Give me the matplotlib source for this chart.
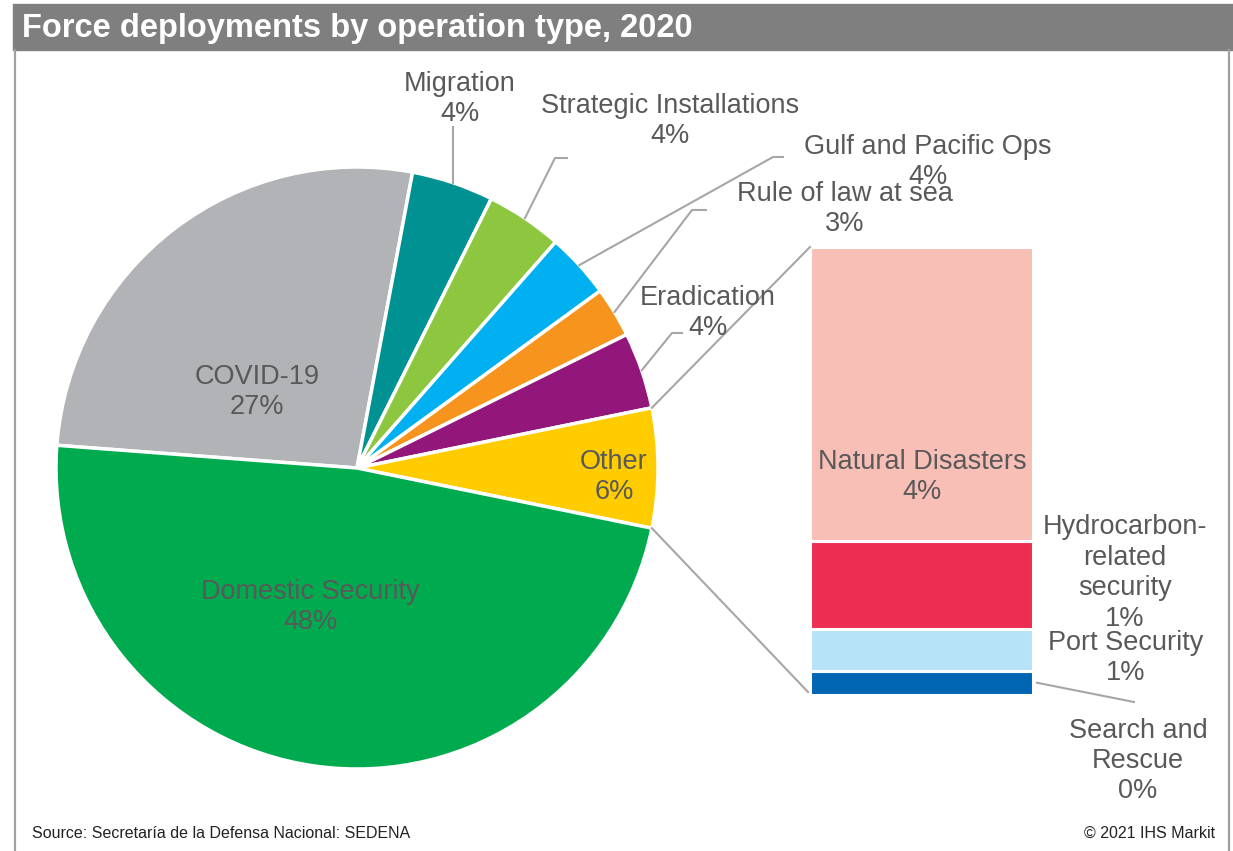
import matplotlib
matplotlib.use("Agg")
import matplotlib.pyplot as plt
from matplotlib.patches import Rectangle
import numpy as np

plt.rcParams['font.family'] = ['Liberation Sans', 'DejaVu Sans']

# Share of force deployments by operation type (clockwise from the left edge)
pie_labels = ["COVID-19", "Migration", "Strategic Installations", "Gulf and Pacific Ops",
              "Rule of law at sea", "Eradication", "Other", "Domestic Security"]
pie_values = [26.7, 4.4, 4.1, 3.5, 2.7, 4.1, 6.4, 47.9]
pie_colors = ["#B1B3B6", "#009193", "#8DC63F", "#00B0F0",
              "#F7941D", "#93177B", "#FFCC00", "#00AA4E"]

# Breakdown of "Other" (stacked bottom to top)
other_labels = ["Search and\nRescue", "Port Security",
                "Hydrocarbon-\nrelated\nsecurity", "Natural Disasters"]
other_values = [0.35, 0.6, 1.25, 4.2]
other_colors = ["#0066B3", "#B6E3F8", "#EE2D53", "#F8BFB7"]

title = "Force deployments by operation type, 2020"
source = "Source: Secretaría de la Defensa Nacional: SEDENA"
credit = "© 2021 IHS Markit"

W, H = 1233, 851
TXT = "#595959"
LINE = "#A6A6A6"
FS = 19.5
LS = 1.22

fig = plt.figure(figsize=(W / 100, H / 100), dpi=100)


def px_axes(left, top, right, bottom, **kw):
    return fig.add_axes([left / W, 1 - bottom / H, (right - left) / W, (bottom - top) / H], **kw)


def pct(v):
    return f"{int(round(v))}%"


# Pie geometry (pixels)
CX, CY, R = 357, 468, 301
pie_ax = px_axes(CX - R, CY - R, CX + R, CY + R)
other_idx = pie_labels.index("Other")
total = sum(pie_values)
# rotate so the "Other" slice is centred on the horizontal axis
start = 360 * (sum(pie_values[:other_idx]) + pie_values[other_idx] / 2) / total
wedges, _ = pie_ax.pie(pie_values, colors=pie_colors, startangle=start, counterclock=False,
                       radius=1, wedgeprops=dict(edgecolor="white", linewidth=2.5))
pie_ax.set_xlim(-1, 1)
pie_ax.set_ylim(-1, 1)
pie_ax.axis("off")

# Stacked bar for the "Other" breakdown
BL, BT, BR, BB = 810, 247, 1033, 695
bar_ax = px_axes(BL, BT, BR, BB)
bottom = 0
for v, c in zip(other_values, other_colors):
    bar_ax.bar(0, v, bottom=bottom, width=1, color=c, edgecolor="white", linewidth=2.2)
    bottom += v
bar_ax.set_xlim(-0.5, 0.5)
bar_ax.set_ylim(0, sum(other_values))
bar_ax.axis("off")

# Overlay in pixel coordinates for text, leaders and frame
ov = fig.add_axes([0, 0, 1, 1], zorder=5)
ov.set_xlim(0, W)
ov.set_ylim(H, 0)
ov.axis("off")


def edge_point(deg, r=R):
    a = np.deg2rad(deg)
    return CX + r * np.cos(a), CY - r * np.sin(a)


def bar_y(val):
    return BB - (BB - BT) * val / sum(other_values)


# Title bar and frame
ov.add_patch(Rectangle((13, 4), W - 13, 46, color="#7F7F7F", zorder=1))
ov.text(22, 29, title, color="white", fontsize=23.5, fontweight="bold", va="center", ha="left")
ov.plot([14.5, 14.5], [50, H], color="#A0A0A0", lw=1.6)
ov.plot([1228.5, 1228.5], [50, H], color="#A0A0A0", lw=1.6)
ov.text(32, 833, source, fontsize=11.5, color="#222222", va="center", ha="left")
ov.text(1215, 833, credit, fontsize=11.5, color="#222222", va="center", ha="right")

# Slice labels
label_pos = {
    "COVID-19": (257, 392),
    "Migration": (460, 99),
    "Strategic Installations": (670, 121),
    "Gulf and Pacific Ops": (928, 162),
    "Rule of law at sea": (845, 209),
    "Eradication": (708, 313),
    "Other": (614, 477),
    "Domestic Security": (310, 607),
}
leader_path = {
    "Migration": [(None, 127)],
    "Strategic Installations": [(555, 158), (567, 158)],
    "Gulf and Pacific Ops": [(773, 157), (783, 157)],
    "Rule of law at sea": [(692, 210), (706, 210)],
    "Eradication": [(672, 333), (682, 333)],
}
for w, lab, v in zip(wedges, pie_labels, pie_values):
    x, y = label_pos[lab]
    ov.text(x, y, f"{lab}\n{pct(v)}", fontsize=FS, color=TXT, ha="center", va="center",
            linespacing=LS)
    if lab in leader_path:
        sx, sy = edge_point((w.theta1 + w.theta2) / 2)
        pts = [(sx, sy)] + [(sx if px is None else px, py) for px, py in leader_path[lab]]
        xs, ys = zip(*pts)
        ov.plot(xs, ys, color=LINE, lw=1.5)

# Connectors from the "Other" slice to the bar
ow = wedges[other_idx]
ux, uy = edge_point(ow.theta2)
lx, ly = edge_point(ow.theta1)
ov.plot([ux, BL], [uy, BT], color=LINE, lw=1.5)
ov.plot([lx, BL - 2], [ly, BB - 3], color=LINE, lw=1.5)

# Bar labels
bar_label_pos = {
    "Natural Disasters": (922, 477),
    "Hydrocarbon-\nrelated\nsecurity": (1125, 573),
    "Port Security": (1126, 658),
    "Search and\nRescue": (1138, 761),
}
cum = 0
for lab, v in zip(other_labels, other_values):
    x, y = bar_label_pos[lab]
    ov.text(x, y, f"{lab}\n{pct(v)}", fontsize=FS, color=TXT, ha="center", va="center",
            linespacing=LS)
    if lab.startswith("Search"):
        yy = bar_y(cum + v / 2)
        ov.plot([BR + 4, 1134], [yy, 702], color=LINE, lw=1.5)
    cum += v

fig.savefig("out.png", dpi=100)
